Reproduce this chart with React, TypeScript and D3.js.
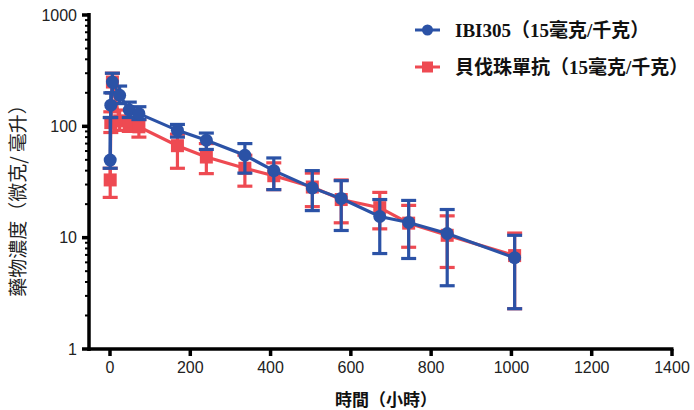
import React from "react";
import * as d3 from "d3";

const times = [0.5, 2, 6, 24, 48, 72, 168, 240, 336, 408, 504, 576, 672, 744, 840, 1008];
const ibiMean = [49.8, 155, 250, 190, 140, 130, 92, 75, 55, 40, 28, 22.5, 15.5, 13.7, 10.9, 6.6];
const ibiLow = [42, 120, 200, 160, 120, 115, 80, 62, 38, 27, 17.5, 11.6, 7.2, 6.5, 3.7, 2.3];
const ibiHigh = [120, 200, 300, 230, 165, 150, 104, 87, 70, 52, 40, 32.5, 22, 21.6, 17.9, 10.5];
const bevMean = [33, 108, 250, 112, 103, 99, 67, 53, 42, 36, 28.5, 22, 18.6, 13.5, 10.5, 6.9];
const bevLow = [23, 88, 200, 92, 90, 80, 42, 37.6, 29, 27, 19, 13.6, 12, 8.2, 5.4, 2.3];
const bevHigh = [42, 135, 300, 140, 120, 115, 85, 70, 55, 47, 38, 33, 25.5, 19.5, 15.7, 11];

const xTicks = [0, 200, 400, 600, 800, 1000, 1200, 1400];
const yTicks = [1, 10, 100, 1000];
const legendLabels = ["IBI305（15毫克/千克）", "貝伐珠單抗（15毫克/千克）"];
const yTitle = "藥物濃度（微克/ 毫升）";
const xTitle = "時間（小時）";

const BLUE = "#2b52a6";
const RED = "#ee4a52";

export default function App() {
  const W = 694, H = 410;
  const x = d3.scaleLinear().domain([0, 1400]).range([110, 672]);
  const y = d3.scaleLog().domain([1, 1000]).range([349, 15]);
  const minor: number[] = [];
  [1, 10, 100].forEach((d) => {
    for (let k = 2; k <= 9; k++) minor.push(d * k);
  });
  const line = d3
    .line<number>()
    .x((_, i) => x(times[i]))
    .y((v) => y(v));

  const series = [
    { mean: bevMean, low: bevLow, high: bevHigh, color: RED, kind: "square" },
    { mean: ibiMean, low: ibiLow, high: ibiHigh, color: BLUE, kind: "circle" },
  ];
  const cap = 7.5;
  const tickFont = "'Liberation Sans', Arial, sans-serif";
  const cjkBold = "'Liberation Serif', 'Noto Sans CJK TC', serif";

  return (
    <svg width={W} height={H} style={{ position: "absolute", left: 0, top: 0, background: "#fff" }}>
      {series.map((s, si) => (
        <g key={si}>
          {s.mean.map((m, i) => {
            const cx = x(times[i]);
            return (
              <g key={i} stroke={s.color} strokeWidth={3.2}>
                <line x1={cx} x2={cx} y1={y(s.low[i])} y2={y(s.high[i])} />
                <line x1={cx - cap} x2={cx + cap} y1={y(s.low[i])} y2={y(s.low[i])} />
                <line x1={cx - cap} x2={cx + cap} y1={y(s.high[i])} y2={y(s.high[i])} />
              </g>
            );
          })}
          <path d={line(s.mean) || ""} fill="none" stroke={s.color} strokeWidth={3.2} />
          {s.mean.map((m, i) =>
            s.kind === "circle" ? (
              <circle key={i} cx={x(times[i])} cy={y(m)} r={6.5} fill={s.color} />
            ) : (
              <rect key={i} x={x(times[i]) - 6.5} y={y(m) - 6.5} width={13} height={13} fill={s.color} />
            )
          )}
        </g>
      ))}

      {/* Y axis */}
      <line x1={89} x2={89} y1={13} y2={351} stroke="#000" strokeWidth={3.5} />
      {yTicks.map((t) => (
        <g key={t}>
          <line x1={82} x2={89} y1={y(t)} y2={y(t)} stroke="#000" strokeWidth={3.5} />
          <text x={77} y={y(t)} dy="0.36em" textAnchor="end" fontSize={16} fontFamily={tickFont} fill="#222">
            {t}
          </text>
        </g>
      ))}
      {minor.map((t) => (
        <line key={t} x1={85} x2={89} y1={y(t)} y2={y(t)} stroke="#000" strokeWidth={2} />
      ))}

      {/* X axis */}
      <line x1={87.5} x2={673.5} y1={349} y2={349} stroke="#000" strokeWidth={3.5} />
      {xTicks.map((t) => (
        <g key={t}>
          <line x1={x(t)} x2={x(t)} y1={349} y2={356} stroke="#000" strokeWidth={3.5} />
          <text x={x(t)} y={373} textAnchor="middle" fontSize={16} fontFamily={tickFont} fill="#222">
            {t}
          </text>
        </g>
      ))}

      <text x={386} y={406} textAnchor="middle" fontSize={17} fontWeight="bold" fontFamily={cjkBold} fill="#111">
        {xTitle}
      </text>
      <text
        transform={`translate(25,196) rotate(-90)`}
        textAnchor="middle"
        fontSize={19}
        fontFamily="'Noto Sans CJK TC', sans-serif"
        fill="#222"
      >
        {yTitle}
      </text>

      {/* Legend */}
      <g>
        <line x1={415} x2={440} y1={30} y2={30} stroke={BLUE} strokeWidth={3} />
        <circle cx={427.5} cy={30} r={5.5} fill={BLUE} />
        <text x={455} y={30} dy="0.36em" fontSize={19} fontWeight="bold" fontFamily={cjkBold} fill="#111">
          {legendLabels[0]}
        </text>
        <line x1={415} x2={440} y1={67} y2={67} stroke={RED} strokeWidth={3} />
        <rect x={422} y={61.5} width={11} height={11} fill={RED} />
        <text x={455} y={67} dy="0.36em" fontSize={19} fontWeight="bold" fontFamily={cjkBold} fill="#111">
          {legendLabels[1]}
        </text>
      </g>
    </svg>
  );
}
